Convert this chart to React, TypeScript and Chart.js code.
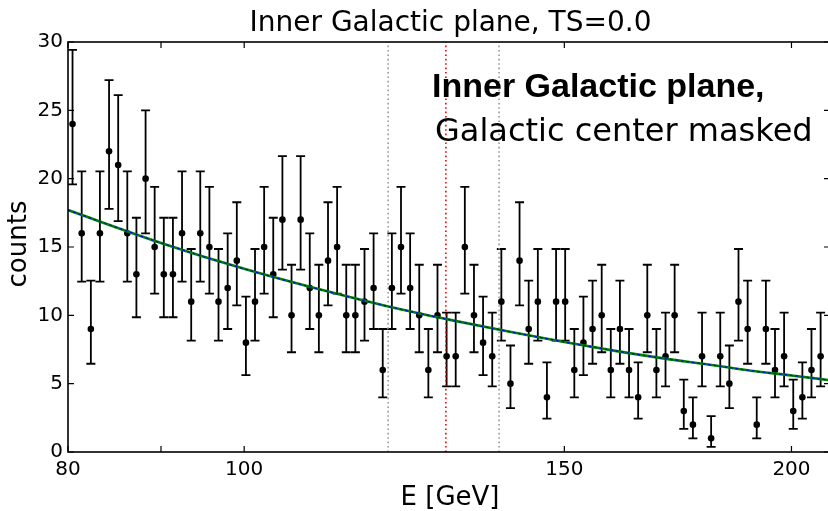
import React, { useEffect, useRef } from 'react';
import { Chart, registerables } from 'chart.js';

Chart.register(...registerables);

// Bin centres (GeV) and observed counts
const energies = [
  80.46, 81.4, 82.35, 83.3, 84.27, 85.25, 86.24, 87.24, 88.26, 89.28,
  90.32, 91.37, 92.43, 93.51, 94.59, 95.69, 96.8, 97.93, 99.07, 100.22,
  101.38, 102.56, 103.75, 104.96, 106.18, 107.41, 108.66, 109.92, 111.2, 112.49,
  113.8, 115.12, 116.46, 117.81, 119.18, 120.57, 121.97, 123.39, 124.82, 126.27,
  127.74, 129.22, 130.72, 132.24, 133.78, 135.33, 136.91, 138.5, 140.11, 141.73,
  143.38, 145.05, 146.73, 148.44, 150.16, 151.91, 153.67, 155.46, 157.27, 159.09,
  160.94, 162.81, 164.7, 166.62, 168.55, 170.51, 172.49, 174.5, 176.53, 178.58,
  180.65, 182.75, 184.87, 187.02, 189.2, 191.39, 193.62, 195.87, 198.14, 200.45,
  202.78, 205.13, 207.52,
];
const counts = [
  24, 16, 9, 16, 22, 21, 16, 13, 20, 15,
  13, 13, 16, 11, 16, 15, 11, 12, 14, 8,
  11, 15, 13, 17, 10, 17, 12, 10, 14, 15,
  10, 10, 11, 12, 6, 12, 15, 12, 10, 6,
  10, 7, 7, 15, 10, 8, 7, 11, 5, 14,
  9, 11, 4, 11, 11, 6, 8, 9, 10, 6,
  9, 6, 4, 10, 6, 7, 10, 3, 2, 7,
  1, 7, 5, 11, 9, 2, 9, 6, 7, 3,
  4, 6, 7,
];

// Fitted model curve
const fitEnergies = [80, 90, 100, 110, 120, 130, 140, 150, 160, 170, 180, 190, 200, 210];
const fitCounts = [17.7, 15.3, 13.4, 11.9, 10.65, 9.65, 8.8, 8.05, 7.4, 6.85, 6.4, 5.95, 5.6, 5.25];

// Vertical marker lines (GeV)
const windowEdges = [120.0, 138.1];
const lineEnergy = 129.1;

// Axis ticks
const xTickValues = [80, 90, 100, 150, 200];
const xTickLabels = ['80', '', '100', '150', '200'];
const yTickValues = [0, 5, 10, 15, 20, 25, 30];

const titleText = 'Inner Galactic plane, TS=0.0';
const noteBold = 'Inner Galactic plane,';
const noteRegular = 'Galactic center masked';
const xTitle = 'E [GeV]';
const yTitle = 'counts';

const FONT = '"DejaVu Sans", "Liberation Sans", sans-serif';

// Poisson (Pearson chi2) 68% interval: mu = n + 1/2 +- sqrt(n + 1/4)
const interval = (n: number) => {
  const h = Math.sqrt(n + 0.25);
  return [n + 0.5 - h, n + 0.5 + h];
};

const decorPlugin = {
  id: 'decor',
  beforeDatasetsDraw(chart: any) {
    const { ctx, scales } = chart;
    const x = scales.x;
    const y = scales.y;
    ctx.save();
    ctx.strokeStyle = '#000';
    ctx.lineWidth = 1.8;
    const cap = 4.5;
    energies.forEach((e, i) => {
      const [lo, hi] = interval(counts[i]);
      const px = x.getPixelForValue(e);
      const yt = y.getPixelForValue(hi);
      const yb = y.getPixelForValue(Math.max(0, lo));
      ctx.beginPath();
      ctx.moveTo(px, yt);
      ctx.lineTo(px, yb);
      ctx.moveTo(px - cap, yt);
      ctx.lineTo(px + cap, yt);
      ctx.moveTo(px - cap, yb);
      ctx.lineTo(px + cap, yb);
      ctx.stroke();
    });
    ctx.restore();
  },
  afterDraw(chart: any) {
    const { ctx, chartArea, scales } = chart;
    const x = scales.x;
    const y = scales.y;
    const { left, right, top, bottom } = chartArea;
    ctx.save();
    // frame
    ctx.strokeStyle = '#000';
    ctx.lineWidth = 1.6;
    ctx.strokeRect(left, top, right - left, bottom - top);
    // inward ticks
    const tl = 6;
    ctx.lineWidth = 1.2;
    ctx.beginPath();
    xTickValues.forEach((v) => {
      const px = x.getPixelForValue(v);
      ctx.moveTo(px, bottom);
      ctx.lineTo(px, bottom - tl);
      ctx.moveTo(px, top);
      ctx.lineTo(px, top + tl);
    });
    yTickValues.forEach((v) => {
      const py = y.getPixelForValue(v);
      ctx.moveTo(left, py);
      ctx.lineTo(left + tl, py);
      ctx.moveTo(right, py);
      ctx.lineTo(right - tl, py);
    });
    ctx.stroke();

    ctx.fillStyle = '#000';
    // title
    ctx.font = `28px ${FONT}`;
    ctx.textAlign = 'center';
    ctx.textBaseline = 'alphabetic';
    ctx.fillText(titleText, (left + right) / 2 + 1.5, 31);
    // x title
    ctx.font = `26px ${FONT}`;
    ctx.fillText(xTitle, (left + right) / 2 + 1, 505);
    // y title
    ctx.save();
    ctx.translate(25.5, 244);
    ctx.rotate(-Math.PI / 2);
    ctx.fillText(yTitle, 0, 0);
    ctx.restore();
    // annotation
    ctx.textAlign = 'left';
    ctx.font = `bold 34px "Liberation Sans", "DejaVu Sans", sans-serif`;
    ctx.fillText(noteBold, 432, 97);
    ctx.font = `32px ${FONT}`;
    ctx.fillText(noteRegular, 435, 141);
    ctx.restore();
  },
};

export default function App() {
  const canvasRef = useRef<HTMLCanvasElement | null>(null);

  useEffect(() => {
    document.body.style.margin = '0';
    const canvas = canvasRef.current;
    if (!canvas) return;
    Chart.defaults.font.family = FONT;
    Chart.defaults.color = '#000';

    const points = energies.map((e, i) => ({ x: e, y: counts[i] }));
    const fit = fitEnergies.map((e, i) => ({ x: e, y: fitCounts[i] }));
    const vline = (e: number) => [
      { x: e, y: 0 },
      { x: e, y: 30 },
    ];

    const chart = new Chart(canvas, {
      type: 'scatter',
      data: {
        datasets: [
          {
            type: 'line',
            data: fit,
            borderColor: '#0000ff',
            borderWidth: 1.3,
            borderDash: [2.5, 3],
            pointRadius: 0,
            cubicInterpolationMode: 'monotone',
            fill: false,
            order: 1,
          } as any,
          {
            type: 'line',
            data: fit,
            borderColor: '#008000',
            borderWidth: 2.6,
            pointRadius: 0,
            cubicInterpolationMode: 'monotone',
            fill: false,
            order: 2,
          } as any,
          {
            type: 'scatter',
            data: points,
            backgroundColor: '#000',
            borderColor: '#000',
            borderWidth: 0,
            pointRadius: 3.3,
            order: 3,
          },
          {
            type: 'line',
            data: vline(lineEnergy),
            borderColor: '#ff0000',
            borderWidth: 1.6,
            borderDash: [1.6, 2.8],
            pointRadius: 0,
            fill: false,
            order: 4,
          } as any,
          ...windowEdges.map(
            (e) =>
              ({
                type: 'line',
                data: vline(e),
                borderColor: '#999999',
                borderWidth: 1.6,
                borderDash: [1.6, 2.8],
                pointRadius: 0,
                fill: false,
                order: 5,
              }) as any
          ),
        ],
      },
      options: {
        animation: false,
        responsive: false,
        devicePixelRatio: 1,
        events: [],
        layout: { padding: { top: 42, right: 3, left: 0, bottom: 0 } },
        plugins: {
          legend: { display: false },
          tooltip: { enabled: false },
          title: { display: false },
        },
        scales: {
          x: {
            type: 'logarithmic',
            position: 'bottom',
            min: 80,
            max: 210,
            grid: { display: false, drawTicks: false },
            border: { display: false },
            ticks: {
              autoSkip: false,
              maxRotation: 0,
              padding: 6,
              color: '#000',
              font: { family: FONT, size: 20 },
              callback: (value: any) => {
                const i = xTickValues.indexOf(Number(value));
                return i >= 0 ? xTickLabels[i] : '';
              },
            },
            afterBuildTicks: (scale: any) => {
              scale.ticks = xTickValues.map((v) => ({ value: v }));
            },
            afterFit: (scale: any) => {
              scale.height = 59;
            },
          },
          y: {
            type: 'linear',
            min: 0,
            max: 30,
            grid: { display: false, drawTicks: false },
            border: { display: false },
            ticks: {
              padding: 5,
              color: '#000',
              font: { family: FONT, size: 20 },
            },
            afterBuildTicks: (scale: any) => {
              scale.ticks = yTickValues.map((v) => ({ value: v }));
            },
            afterFit: (scale: any) => {
              scale.width = 68;
            },
          },
        },
      } as any,
      plugins: [decorPlugin],
    });

    return () => {
      chart.destroy();
    };
  }, []);

  return (
    <div style={{ width: 828, height: 511, overflow: 'hidden', background: '#fff' }}>
      <canvas ref={canvasRef} width={834} height={511} style={{ display: 'block' }} />
    </div>
  );
}
